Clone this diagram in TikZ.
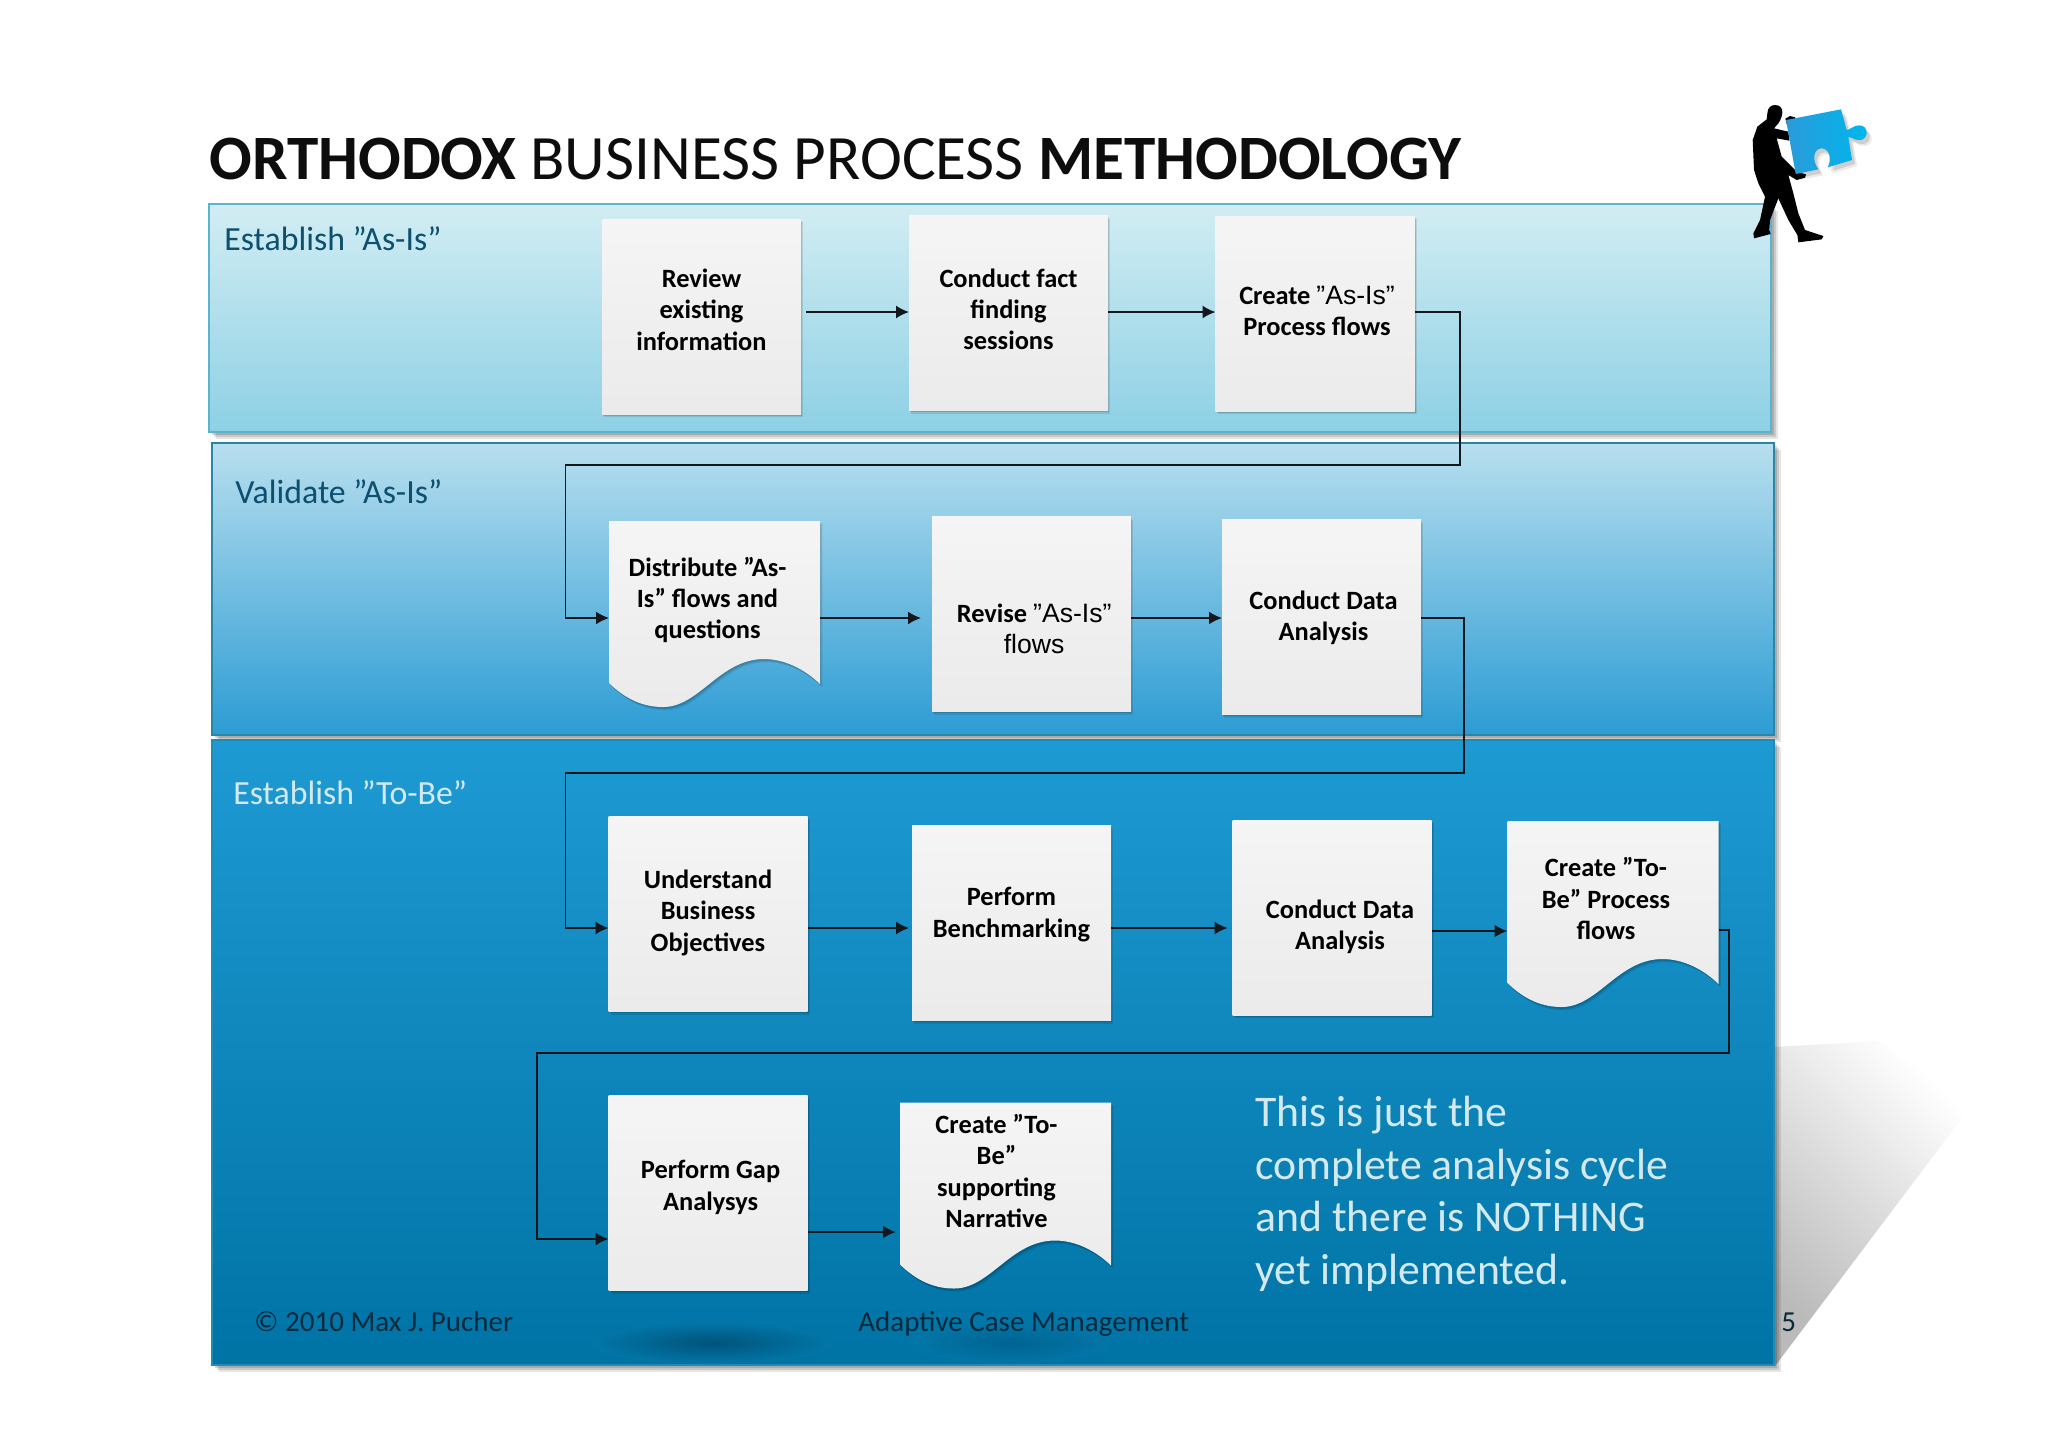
\documentclass[tikz,border=0pt]{standalone}
\usepackage{fontspec}
\setmainfont{Carlito}
\newfontfamily\arialfont{Liberation Sans}
\usetikzlibrary{arrows.meta,shadows}

\definecolor{inkline}{HTML}{14181C}
\definecolor{labeldark}{HTML}{0C4F6E}
\definecolor{labellight}{HTML}{D3E9EE}
\definecolor{footink}{HTML}{062A3C}
\definecolor{bandfoot}{RGB}{2,118,168}

\newcommand{\plainrun}[1]{{\arialfont\mdseries\fontsize{13.3}{15.7}\selectfont #1}}

\tikzset{
    panel/.style={rectangle, outer sep=0pt, inner sep=0pt, line width=0.7pt,
        drop shadow={shadow xshift=3.5pt, shadow yshift=-3.5pt, fill=black, opacity=.1},
        drop shadow={shadow xshift=2.5pt, shadow yshift=-2.5pt, fill=black, opacity=.12},
        drop shadow={shadow xshift=1.5pt, shadow yshift=-1.5pt, fill=black, opacity=.15}},
    paper/.style={top color=black!4, bottom color=black!8,
        drop shadow={shadow xshift=1.2pt, shadow yshift=-1.6pt, fill=black, opacity=.1},
        drop shadow={shadow xshift=0.6pt, shadow yshift=-0.9pt, fill=black, opacity=.14}},
    stepbox/.style={rectangle, paper, minimum width=99.5pt, minimum height=97.5pt,
        inner sep=0pt, outer sep=0pt},
    docbox/.style={rectangle, minimum width=105.5pt, minimum height=93pt,
        inner sep=0pt, outer sep=0pt},
    steptext/.style={font=\bfseries\fontsize{13.2}{15.7}\selectfont, align=center, text=black},
    flow/.style={color=inkline, line width=0.9pt, >={Latex[length=6.5pt,width=6.5pt]}},
    bandlabel/.style={font=\fontsize{16.9}{20}\selectfont, anchor=base west, inner sep=0pt},
    footlabel/.style={font=\fontsize{14.5}{17}\selectfont, anchor=base west, inner sep=0pt, text=footink},
    docwave/.pic={
        \path[paper] (-105.5,-93) -- (105.5,-93) -- (105.5,70)
            .. controls (90,55) and (70,45) .. (49.5,45)
            .. controls (5,45) and (-15,93) .. (-51.5,93)
            .. controls (-75,93) and (-92,82) .. (-105.5,69) -- cycle;
    }
}

\begin{document}
\begin{tikzpicture}[x=0.5pt, y=-0.5pt]
    \useasboundingbox (0,0) rectangle (2048,1447);

    % floor shadow behind the bands
    \shade[top color=white, bottom color=black!27, shading angle=-45]
        (1774,1047) -- (1879,1041) -- (1971,1106) -- (1775,1366) -- cycle;

    %% bands
    \node[panel, draw={rgb,255:red,90;green,181;blue,204}, top color={rgb,255:red,210;green,237;blue,243},
        middle color={rgb,255:red,170;green,217;blue,233}, bottom color={rgb,255:red,141;green,208;blue,229},
        minimum width=781pt, minimum height=114pt] (asisband) at (990,318) {};
    \node[panel, draw={rgb,255:red,40;green,135;blue,165}, top color={rgb,255:red,184;green,223;blue,238},
        middle color={rgb,255:red,118;green,190;blue,225}, bottom color={rgb,255:red,44;green,156;blue,212},
        minimum width=781pt, minimum height=146pt] (validateband) at (993,589) {};
    \node[panel, draw={rgb,255:red,30;green,140;blue,180}, top color={rgb,255:red,30;green,154;blue,211},
        middle color={rgb,255:red,8;green,135;blue,190}, bottom color={rgb,255:red,0;green,115;blue,165},
        minimum width=781pt, minimum height=312.5pt] (tobeband) at (993,1052.5) {};

    \shade[inner color={rgb,255:red,0;green,84;blue,122}, outer color=bandfoot]
        (712,1343) ellipse (120 and 21);
    \shade[inner color={rgb,255:red,0;green,100;blue,145}, outer color=bandfoot]
        (1010,1343) ellipse (100 and 21);

    \node[bandlabel, text=labeldark] (asislabel) at (224,250) {Establish ”As-Is”};
    \node[bandlabel, text=labeldark] (validatelabel) at (235,503) {Validate ”As-Is”};
    \node[bandlabel, text=labellight] (tobelabel) at (233,804) {Establish ”To-Be”};

    %% plain process steps: name/x/y/text shift/text lift/text
    \foreach \n/\x/\y/\s/\d/\t in {
        review/701.5/316.5/0/3.5/{Review\\existing\\information},
        conduct/1008.5/313/0/1.8/{Conduct fact\\finding\\sessions},
        createasis/1315/313.5/1/1.4/{Create \plainrun{”As-Is”}\\Process flows},
        revise/1031.5/614/1.3/-7.4/{Revise \plainrun{”As-Is”}\\\plainrun{flows}},
        conductdata/1321.5/617/1/-0.3/{Conduct Data\\Analysis},
        understand/708/914/0/0.7/{Understand\\Business\\Objectives},
        benchmark/1011.5/923/0/4.2/{Perform\\Benchmarking},
        conductdatab/1332/917.5/4/-4.5/{Conduct Data\\Analysis},
        gap/708/1193/1.3/2.9/{Perform Gap\\Analysys}}
        \node[stepbox, label={[steptext, xshift=\s pt, yshift=\d pt]center:{\t}}] (\n) at (\x,\y) {};

    %% wavy documents
    \foreach \n/\x/\y/\s/\d/\t in {
        distribute/714.5/614/-3.5/7/{Distribute ”As-\\Is” flows and\\questions},
        createtobe/1613/914/-3.5/7.7/{Create ”To-\\Be” Process\\flows},
        narrative/1005.5/1195.5/-4.5/12.2/{Create ”To-\\Be”\\supporting\\Narrative}}{
        \pic at (\x,\y) {docwave};
        \node[docbox, label={[steptext, xshift=\s pt, yshift=\d pt]center:{\t}}] (\n) at (\x,\y) {};
    }

    % arrow heights and bends
    \coordinate (rowA) at (0,312);
    \coordinate (rowB) at (0,618);
    \coordinate (rowC) at (0,928);
    \coordinate (rowD) at (0,1232);
    \coordinate (bendA) at (1460,465);
    \coordinate (bendB) at (565.5,465);
    \coordinate (bendC) at (1464,773);
    \coordinate (bendD) at (565.5,773);
    \coordinate (bendE) at (1729,1053);
    \coordinate (bendF) at (537,1053);
    \coordinate (gapin) at (0,1239);

    \path[->, flow]
        (review.east |- rowA) edge[shorten <=2.5pt] (conduct.west |- rowA)
        (conduct.east |- rowA) edge (createasis.west |- rowA)
        (distribute.east |- rowB) edge[shorten >=5.5pt] (revise.west |- rowB)
        (revise.east |- rowB) edge (conductdata.west |- rowB)
        (understand.east |- rowC) edge[shorten >=1.5pt] (benchmark.west |- rowC)
        (benchmark.east |- rowC) edge[shorten >=2.5pt] (conductdatab.west |- rowC)
        (conductdatab.east |- 0,931) edge[line width=1.3pt] (createtobe.west |- 0,931)
        (gap.east |- rowD) edge[line width=1.3pt, shorten >=2pt] (narrative.west |- rowD)
    ;
    \draw[->, flow] (createasis.east |- rowA) -| (bendA) -- (bendB) |- (distribute.west |- rowB);
    \draw[->, flow] (conductdata.east |- rowB) -| (bendC) -- (bendD) |- (understand.west |- rowC);
    \draw[->, flow] (createtobe.east |- 0,930) -| (bendE) -- (bendF) |- (gap.west |- gapin);

    %% heading and free text
    \node[font=\fontsize{31.6}{38}\selectfont, anchor=base west, inner sep=0pt, text=black!95] (heading)
        at (209,179) {\textbf{ORTHODOX} BUSINESS PROCESS \textbf{METHODOLOGY}};
    \node[font=\fontsize{21.85}{26.3}\selectfont, align=left, anchor=north west, inner sep=0pt, text=labellight] (remark)
        at (1255,1096) {This is just the\\complete analysis cycle\\and there is NOTHING\\yet implemented.};
    \node[footlabel] (copyright) at (254,1331) {© 2010 Max J. Pucher};
    \node[footlabel] (footer) at (858,1331) {Adaptive Case Management};
    \node[footlabel] (pageno) at (1781,1331) {5};

    % man carrying the puzzle piece
    \begin{scope}[shift={(1650,80)}, x=0.16667pt, y=-0.16667pt]
        \fill[black] (352,100) .. controls (352,82) and (365,75) .. (375,75)
            .. controls (390,75) and (398,85) .. (397,98) .. controls (396,112) and (390,122) .. (385,130)
            -- (372,145) -- (415,155) -- (418,182) -- (380,175) -- (395,230) -- (440,275)
            -- (468,283) -- (465,293) -- (440,300) -- (415,285) -- (430,340) -- (445,400) -- (465,450) -- (520,468)
            -- (515,478) -- (445,487) -- (442,465) -- (415,420) -- (385,355) -- (360,420) -- (358,450) -- (362,462)
            -- (312,475) -- (310,460) -- (330,420) -- (345,350) -- (325,310) -- (312,270) -- (308,180) -- (322,140)
            -- (350,118) -- cycle;
        \fill[black] (406,116) -- (420,108) -- (436,112) -- (430,130) -- (410,130) -- cycle;
        \shade[left color={rgb,255:red,42;green,155;blue,218}, right color={rgb,255:red,0;green,182;blue,236},
            drop shadow={shadow xshift=2.5pt, shadow yshift=-3pt, fill=black, opacity=.08},
            drop shadow={shadow xshift=1.5pt, shadow yshift=-2pt, fill=black, opacity=.12}]
            (408,120) -- (573,88) -- (590,150) .. controls (600,150) and (605,138) .. (628,136)
            .. controls (642,136) and (650,146) .. (650,158) .. controls (650,172) and (638,182) .. (625,180)
            .. controls (612,180) and (605,170) .. (595,172) -- (606,240) -- (533,262)
            .. controls (545,240) and (540,206) .. (515,205) .. controls (490,206) and (485,240) .. (505,268)
            -- (437,282) -- cycle;
    \end{scope}
\end{tikzpicture}
\end{document}
